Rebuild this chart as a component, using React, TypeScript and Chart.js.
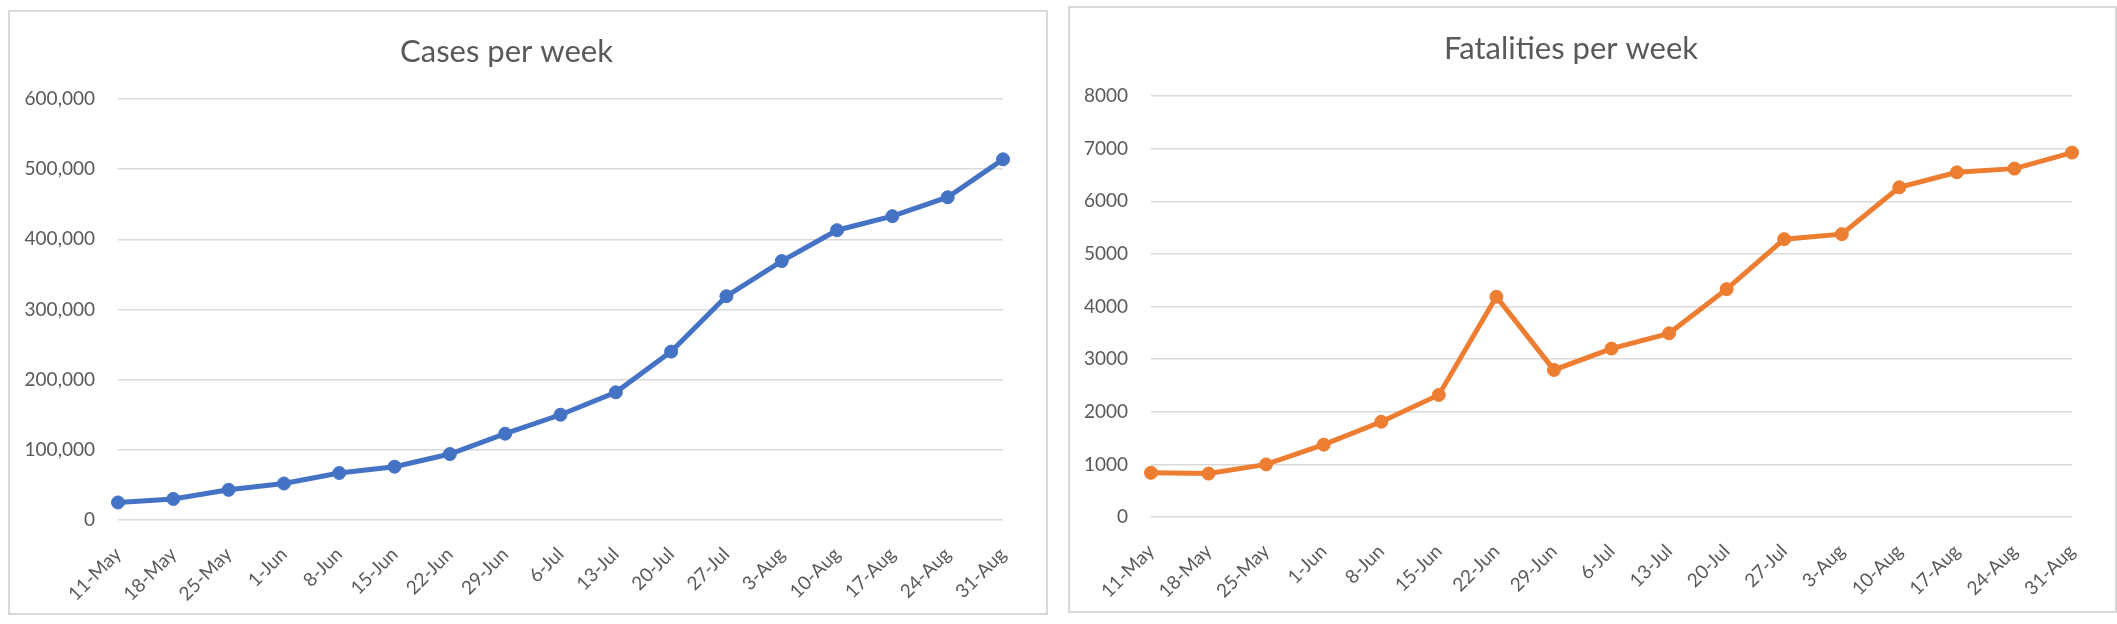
import { useEffect, useRef } from 'react';
import { Chart, registerables } from 'chart.js';

Chart.register(...registerables);

// week labels shared by both charts
const weeks = [
  '11-May', '18-May', '25-May', '1-Jun', '8-Jun', '15-Jun', '22-Jun', '29-Jun', '6-Jul',
  '13-Jul', '20-Jul', '27-Jul', '3-Aug', '10-Aug', '17-Aug', '24-Aug', '31-Aug',
];

const casesPerWeek = [
  25000, 30000, 43000, 52000, 67000, 76000, 94000, 123000, 150000,
  182000, 240000, 319000, 369000, 413000, 433000, 460000, 514000,
];

const fatalitiesPerWeek = [
  840, 825, 1000, 1375, 1810, 2320, 4185, 2795, 3200,
  3490, 4330, 5280, 5375, 6265, 6550, 6620, 6925,
];

const casesAxis = { max: 600000, step: 100000 };
const fatalitiesAxis = { max: 8000, step: 1000 };

const FONT = 'Lato, "Open Sans", sans-serif';
const TEXT = '#595959';
const GRID = '#d9d9d9';

interface PanelProps {
  title: string;
  values: number[];
  color: string;
  yMax: number;
  yStep: number;
  commas: boolean;
  left: number;
  top: number;
  width: number;
  height: number;
  areaLeft: number;
  padRight: number;
  axisHeight: number;
  titleTop: number;
  titleBottom: number;
}

function LinePanel(props: PanelProps) {
  const canvasRef = useRef<HTMLCanvasElement | null>(null);
  const chartRef = useRef<Chart | null>(null);

  useEffect(() => {
    if (!canvasRef.current) return;
    if (chartRef.current) chartRef.current.destroy();

    chartRef.current = new Chart(canvasRef.current, {
      type: 'line',
      data: {
        labels: weeks,
        datasets: [{
          data: props.values,
          borderColor: props.color,
          backgroundColor: props.color,
          borderWidth: 5,
          pointRadius: 6.5,
          pointBorderWidth: 1,
          pointBackgroundColor: props.color,
          pointBorderColor: props.color,
          tension: 0,
          fill: false,
        }],
      },
      options: {
        animation: false,
        responsive: true,
        maintainAspectRatio: false,
        layout: { padding: { left: 0, right: props.padRight, top: 0, bottom: 0 } },
        plugins: {
          legend: { display: false },
          tooltip: { enabled: false },
          title: {
            display: true,
            text: props.title,
            color: TEXT,
            font: { family: FONT, size: 31, weight: 'normal' },
            padding: { top: props.titleTop, bottom: props.titleBottom },
          },
        },
        scales: {
          x: {
            grid: { display: false, drawTicks: false },
            border: { display: false },
            ticks: {
              autoSkip: false,
              minRotation: 45,
              maxRotation: 45,
              padding: 23,
              color: TEXT,
              font: { family: FONT, size: 19 },
            },
            afterFit: (scale: any) => { scale.height = props.axisHeight; },
          },
          y: {
            min: 0,
            max: props.yMax,
            grid: { color: GRID, lineWidth: 1.5, drawTicks: false },
            border: { display: false },
            ticks: {
              stepSize: props.yStep,
              padding: 23,
              color: TEXT,
              font: { family: FONT, size: 19 },
              callback: (v: any) => props.commas ? Number(v).toLocaleString('en-US') : String(v),
            },
            afterFit: (scale: any) => { scale.width = props.areaLeft; },
          },
        },
      } as any,
    });

    return () => {
      if (chartRef.current) {
        chartRef.current.destroy();
        chartRef.current = null;
      }
    };
  }, []);

  return (
    <div
      style={{
        position: 'absolute',
        left: props.left,
        top: props.top,
        width: props.width,
        height: props.height,
        border: `2px solid ${GRID}`,
        boxSizing: 'border-box',
        background: '#fff',
      }}
    >
      <div style={{ position: 'relative', width: '100%', height: '100%' }}>
        <canvas ref={canvasRef} />
      </div>
    </div>
  );
}

export default function App() {
  return (
    <div style={{ position: 'absolute', left: 0, top: 0, width: 2117, height: 624, background: '#fff' }}>
      <LinePanel
        title="Cases per week"
        values={casesPerWeek}
        color="#4472C4"
        yMax={casesAxis.max}
        yStep={casesAxis.step}
        commas={true}
        left={8}
        top={10}
        width={1040}
        height={605}
        areaLeft={108}
        padRight={43}
        axisHeight={93}
        titleTop={21}
        titleBottom={28.8}
      />
      <LinePanel
        title="Fatalities per week"
        values={fatalitiesPerWeek}
        color="#ED7D31"
        yMax={fatalitiesAxis.max}
        yStep={fatalitiesAxis.step}
        commas={false}
        left={1068}
        top={6}
        width={1049}
        height={607}
        areaLeft={81}
        padRight={43}
        axisHeight={94}
        titleTop={22}
        titleBottom={28.8}
      />
    </div>
  );
}
